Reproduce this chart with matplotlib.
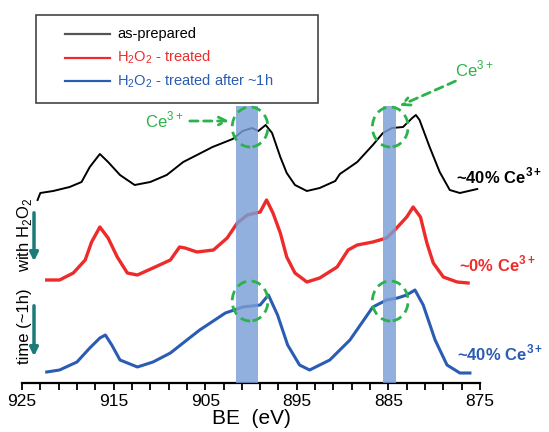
import matplotlib
matplotlib.use("Agg")
import matplotlib.pyplot as plt
from matplotlib.patches import Ellipse, Rectangle, FancyArrowPatch
from matplotlib.lines import Line2D

plt.rcParams['font.family'] = ['Liberation Sans', 'DejaVu Sans']
plt.rcParams['mathtext.fontset'] = 'custom'
plt.rcParams['mathtext.rm'] = 'Liberation Sans'
plt.rcParams['mathtext.bf'] = 'Liberation Sans:bold'

# Ce 3d spectra, binding energy (eV) vs intensity (a.u., stacked)
be_prep = [923.3, 923.0, 921.6, 919.8, 918.5, 917.6, 916.5, 915.6, 914.3, 912.7,
           911.0, 909.2, 907.4, 905.9, 904.2, 902.0, 900.9, 899.9, 899.2, 898.4,
           897.7, 896.8, 896.1, 895.2, 893.9, 892.5, 890.8, 890.3, 889.5, 888.4,
           886.7, 885.6, 884.6, 883.4, 882.4, 882.0, 881.6, 880.5, 879.4, 878.3,
           877.2, 875.3]
int_prep = [183, 190, 192, 196, 201, 216, 229, 221, 208, 198,
            201, 208, 221, 228, 236, 244, 252, 255, 252, 258,
            250, 226, 210, 198, 192, 195, 202, 209, 214, 221,
            238, 250, 255, 256, 265, 268, 263, 236, 211, 193,
            190, 194]

be_treat = [922.3, 920.9, 919.4, 918.1, 917.4, 916.5, 915.6, 914.6, 913.5, 912.4,
            910.7, 908.8, 907.8, 907.2, 905.9, 904.1, 902.6, 901.5, 900.4, 899.0,
            898.3, 897.6, 896.8, 896.1, 895.2, 893.9, 892.5, 890.6, 889.4, 888.4,
            886.7, 885.2, 884.3, 883.0, 882.3, 881.5, 880.8, 880.1, 879.0, 877.5,
            876.3]
int_treat = [103, 103, 110, 123, 141, 156, 145, 126, 110, 108,
             115, 123, 136, 135, 131, 133, 145, 160, 168, 171,
             183, 170, 150, 126, 110, 101, 105, 116, 133, 138,
             141, 145, 153, 166, 176, 166, 140, 120, 106, 101,
             100]

be_1h = [922.3, 920.9, 919.0, 917.6, 916.5, 915.9, 915.2, 914.3, 912.4, 910.7,
         908.8, 907.0, 905.6, 902.8, 900.9, 899.0, 898.1, 897.1, 896.0, 894.7,
         893.6, 891.4, 889.2, 886.7, 885.2, 884.0, 883.0, 882.1, 881.2, 879.9,
         878.6, 877.2, 876.1]
int_1h = [11, 13, 21, 35, 45, 48, 38, 23, 16, 21,
          30, 43, 53, 70, 76, 78, 88, 68, 38, 18,
          13, 23, 43, 76, 83, 85, 88, 93, 78, 43,
          18, 10, 10]

labels = ['as-prepared', 'H$_2$O$_2$ - treated', 'H$_2$O$_2$ - treated after ~1h']
colors = ['black', '#ee2b2b', '#2a5cb3']
ce_labels = ['~40% Ce$^{\\mathbf{3+}}$', '~0% Ce$^{\\mathbf{3+}}$', '~40% Ce$^{\\mathbf{3+}}$']

# Ce3+ bands (eV)
bands = [(901.6, 899.2), (885.6, 884.2)]

fig = plt.figure(figsize=(5.49, 4.32), dpi=100)
W, H = 549, 432
ax = fig.add_axes([22 / W, 49 / H, 458 / W, 383 / H])

ax.plot(be_prep, int_prep, color=colors[0], lw=1.4, solid_joinstyle='round')
ax.plot(be_treat, int_treat, color=colors[1], lw=2.4, solid_joinstyle='round')
ax.plot(be_1h, int_1h, color=colors[2], lw=2.2, solid_joinstyle='round')

for lo, hi in bands:
    ax.fill_between([lo, hi], 0, 277, color='#7a9fd6', alpha=0.82, lw=0, zorder=3)

# dashed circles around the Ce3+ shoulders
green = '#2bb34b'
for cx in (900.1, 884.8):
    for cy in (256, 82):
        ax.add_patch(Ellipse((cx, cy), 3.9, 40, fill=False, ec=green, lw=2,
                             ls=(0, (3.5, 2)), zorder=4))

ax.set_xlim(925, 875)
ax.set_ylim(0, 383)
for s in ('top', 'left', 'right'):
    ax.spines[s].set_visible(False)
ax.spines['bottom'].set_linewidth(1.6)
ax.set_yticks([])
ax.set_xticks(range(925, 874, -10))
ax.set_xticks(range(925, 874, -2), minor=True)
ax.tick_params(axis='x', which='both', direction='out', length=5, width=1.3,
               labelsize=12.5, pad=3)
ax.set_xlabel('BE  (eV)', fontsize=15, labelpad=0)

# Ce3+ annotations
ax.text(183 / W, 1 - 127 / H, 'Ce$^{3+}$', transform=fig.transFigure, color=green,
        fontsize=12, ha='right', va='baseline')
fig.add_artist(FancyArrowPatch((187 / W, 1 - 121 / H), (232 / W, 1 - 121 / H),
                               transform=fig.transFigure, arrowstyle='->',
                               mutation_scale=14, color=green, lw=2,
                               linestyle=(0, (3, 2))))
ax.text(455 / W, 1 - 76 / H, 'Ce$^{3+}$', transform=fig.transFigure, color=green,
        fontsize=12, ha='left', va='baseline')
fig.add_artist(FancyArrowPatch((458 / W, 1 - 80 / H), (397 / W, 1 - 107 / H),
                               transform=fig.transFigure, arrowstyle='->',
                               mutation_scale=14, color=green, lw=2,
                               linestyle=(0, (3, 2))))

# percentages at right
for (x, y), txt, c in zip([(456, 183), (459, 271), (457, 360)], ce_labels, colors):
    fig.text(x / W, 1 - y / H, txt, color=c, fontsize=12, fontweight='bold',
             ha='left', va='baseline')

# left side notes with arrows
teal = '#1b7b79'
fig.text(25 / W, 1 - 235 / H, 'with H$_2$O$_2$', rotation=90, fontsize=12,
         ha='center', va='center')
fig.text(25 / W, 1 - 326 / H, 'time (~1h)', rotation=90, fontsize=12,
         ha='center', va='center')
for y0, y1 in [(210, 264), (303, 359)]:
    fig.add_artist(FancyArrowPatch((34 / W, 1 - y0 / H), (34 / W, 1 - y1 / H),
                                   transform=fig.transFigure, arrowstyle='-|>',
                                   mutation_scale=12, color=teal, lw=2.5))

# legend box
fig.add_artist(Rectangle((36 / W, 1 - 103 / H), 282 / W, 88 / H,
                         transform=fig.transFigure, fill=False, ec='#444444', lw=1.2))
leg_colors = ['#555555', '#ee2b2b', '#2a5cb3']
for i, (lab, c) in enumerate(zip(labels, leg_colors)):
    y = 1 - (34 + 23.5 * i) / H
    fig.add_artist(Line2D([65 / W, 110 / W], [y, y], transform=fig.transFigure,
                          color=c, lw=1.6))
    fig.text(117 / W, y, lab, color=c if i else 'black', fontsize=10.5,
             ha='left', va='center')

fig.savefig('out.png', dpi=100)
